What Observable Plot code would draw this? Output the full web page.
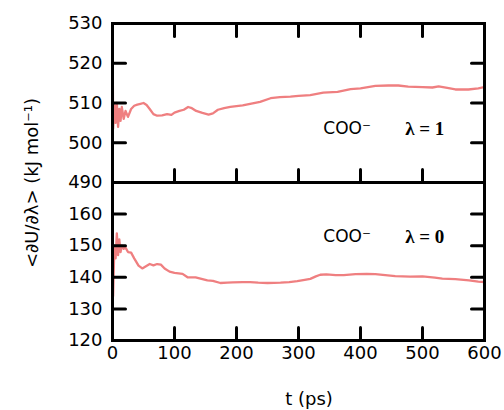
<!DOCTYPE html>
<html>
<head>
<meta charset="utf-8">
<script src="https://cdn.jsdelivr.net/npm/d3@7"></script>
<script src="https://cdn.jsdelivr.net/npm/@observablehq/plot@0.6"></script>
<style>
  html, body { margin: 0; padding: 0; background: #fff; }
  #wrap { position: relative; width: 504px; height: 410px; background: #fff; font-family: "DejaVu Sans", sans-serif; }
  .layer { position: absolute; left: 0; width: 504px; }
  .t { top: 0; height: 183px; }
  .b { top: 181px; height: 229px; }
  #ylab { position: absolute; left: 31px; top: 183px; transform: translate(-50%, -50%) rotate(-90deg); white-space: nowrap; font-size: 18px; color: #000; }
  #xlab { position: absolute; left: 309px; top: 398px; transform: translate(-50%, -50%); white-space: nowrap; font-size: 18px; color: #000; }
</style>
</head>
<body>
<div id="wrap">
  <div id="top" class="layer t"></div>
  <div id="bot" class="layer b"></div>
  <div id="ylab">&lt;∂U/∂λ&gt; (kJ mol⁻¹)</div>
  <div id="xlab">t (ps)</div>
</div>
<script>
// λ = 1 series (top panel)
const tLambda1 = [0, 1, 3, 5, 7, 9, 11, 13, 15, 18, 21, 25, 30, 35, 40, 45, 50, 55, 60, 66, 72, 80, 88, 95, 100, 108, 115, 122, 128, 135, 145, 155, 162, 170, 180, 190, 200, 210, 222, 238, 255, 270, 287, 300, 319, 340, 363, 384, 400, 424, 445, 461, 477, 500, 516, 526, 540, 553, 574, 590, 600];
const uLambda1 = [532, 503.5, 509.5, 505, 510, 504, 508.5, 505.5, 509, 506, 508, 506.5, 508.5, 509.3, 509.6, 509.8, 510, 509.5, 508.5, 507.2, 506.8, 506.9, 507.2, 507.0, 507.6, 508, 508.3, 509, 508.7, 508, 507.5, 507.1, 507.4, 508.3, 508.7, 509, 509.2, 509.4, 509.8, 510.3, 511.2, 511.5, 511.6, 511.8, 512, 512.6, 512.8, 513.5, 513.7, 514.3, 514.4, 514.4, 514.1, 514.0, 513.9, 514.2, 513.8, 513.4, 513.4, 513.7, 514.0];
// λ = 0 series (bottom panel)
const tLambda0 = [0, 1, 3, 5, 7, 9, 11, 13, 15, 18, 21, 25, 30, 35, 42, 48, 54, 60, 66, 72, 78, 84, 92, 100, 113, 121, 134, 153, 162, 174, 185, 194, 210, 222, 235, 250, 271, 285, 298, 310, 319, 328, 335, 345, 360, 373, 392, 410, 424, 440, 456, 480, 500, 520, 532, 553, 575, 590, 600];
const uLambda0 = [169, 134, 150, 146, 153.9, 147, 152, 148, 150, 149, 149.4, 148, 147.8, 146, 143.7, 142.8, 143.5, 144.2, 143.8, 144.2, 144, 142.8, 141.8, 141.4, 141.1, 140.0, 140, 139.0, 138.9, 138.2, 138.3, 138.4, 138.5, 138.5, 138.3, 138.2, 138.3, 138.5, 138.8, 139.2, 139.5, 140.3, 140.8, 140.9, 140.7, 140.7, 141.0, 141.1, 141.0, 140.7, 140.4, 140.2, 140.3, 139.9, 139.6, 139.4, 139.0, 138.6, 138.5];

const xDomain = [0, 600];
const yTopDomain = [490, 530];
const yBotDomain = [120, 170];
const xTickLabels = [0, 100, 200, 300, 400, 500, 600];
const xInnerTicks = [100, 200, 300, 400, 500];
const yTopLabels = [490, 500, 510, 520, 530];
const yTopTicks = [500, 510, 520];
const yBotLabels = [120, 130, 140, 150, 160];
const yBotTicks = [130, 140, 150, 160];

const species = ["COO⁻", "COO⁻"];
const lambdaText = ["λ = 1", "λ = 0"];
const annX = [340, 472];          // t positions of annotations
const annYTop = 503.6;            // value positions of annotations
const annYBot = 152.9;

const lineColor = "#ef7f80";
const TS = 13;

const topData = tLambda1.map((t, i) => ({t, u: uLambda1[i]}));
const botData = tLambda0.map((t, i) => ({t, u: uLambda0[i]}));

// straight stroke shape for vector ticks
const stub = {draw(context, l) { context.moveTo(0, 0); context.lineTo(0, -l); }};

function inwardTicks(yTicks, yDomain, withTop) {
  const o = {length: TS, anchor: "start", shape: stub, stroke: "#000", strokeWidth: 3};
  const m = [
    Plot.vector(yTicks, {x: () => xDomain[0], y: d => d, rotate: 90, ...o}),
    Plot.vector(yTicks, {x: () => xDomain[1], y: d => d, rotate: -90, ...o}),
    Plot.vector(xInnerTicks, {x: d => d, y: () => yDomain[0], rotate: 0, ...o})
  ];
  if (withTop) m.push(Plot.vector(xInnerTicks, {x: d => d, y: () => yDomain[1], rotate: 180, ...o}));
  return m;
}

const common = {
  width: 504,
  marginLeft: 112,
  marginRight: 20,
  style: {fontFamily: "DejaVu Sans, sans-serif", fontSize: "18px", color: "#000", background: "transparent", overflow: "visible"}
};

const topPlot = Plot.plot({
  ...common,
  height: 183, marginTop: 23, marginBottom: 1,
  x: {domain: xDomain, axis: null},
  y: {domain: yTopDomain, axis: null},
  marks: [
    Plot.line(topData, {x: "t", y: "u", stroke: lineColor, strokeWidth: 2.3, clip: true}),
    Plot.text(yTopLabels, {y: d => d, text: d => String(d), frameAnchor: "left", textAnchor: "end", dx: -10, fontSize: 18}),
    Plot.text([species[0]], {x: annX[0], y: annYTop, text: d => d, textAnchor: "start", fontSize: 17, fontFamily: "DejaVu Sans"}),
    Plot.text([lambdaText[0]], {x: annX[1], y: annYTop, text: d => d, textAnchor: "start", fontSize: 19, fontWeight: "bold", fontFamily: "Liberation Serif"}),
    Plot.frame({stroke: "#000", strokeWidth: 3}),
    ...inwardTicks(yTopTicks, yTopDomain, true)
  ]
});

const botPlot = Plot.plot({
  ...common,
  height: 229, marginTop: 1, marginBottom: 70,
  x: {domain: xDomain, axis: null},
  y: {domain: yBotDomain, axis: null},
  marks: [
    Plot.line(botData, {x: "t", y: "u", stroke: lineColor, strokeWidth: 2.3, clip: true}),
    Plot.text(yBotLabels, {y: d => d, text: d => String(d), frameAnchor: "left", textAnchor: "end", dx: -10, fontSize: 18}),
    Plot.text(xTickLabels, {x: d => d, text: d => String(d), frameAnchor: "bottom", lineAnchor: "top", dy: 6, fontSize: 18}),
    Plot.text([species[1]], {x: annX[0], y: annYBot, text: d => d, textAnchor: "start", fontSize: 17, fontFamily: "DejaVu Sans"}),
    Plot.text([lambdaText[1]], {x: annX[1], y: annYBot, text: d => d, textAnchor: "start", fontSize: 19, fontWeight: "bold", fontFamily: "Liberation Serif"}),
    Plot.frame({stroke: "#000", strokeWidth: 3}),
    ...inwardTicks(yBotTicks, yBotDomain, false)
  ]
});

document.getElementById("top").appendChild(topPlot);
document.getElementById("bot").appendChild(botPlot);
</script>
</body>
</html>
